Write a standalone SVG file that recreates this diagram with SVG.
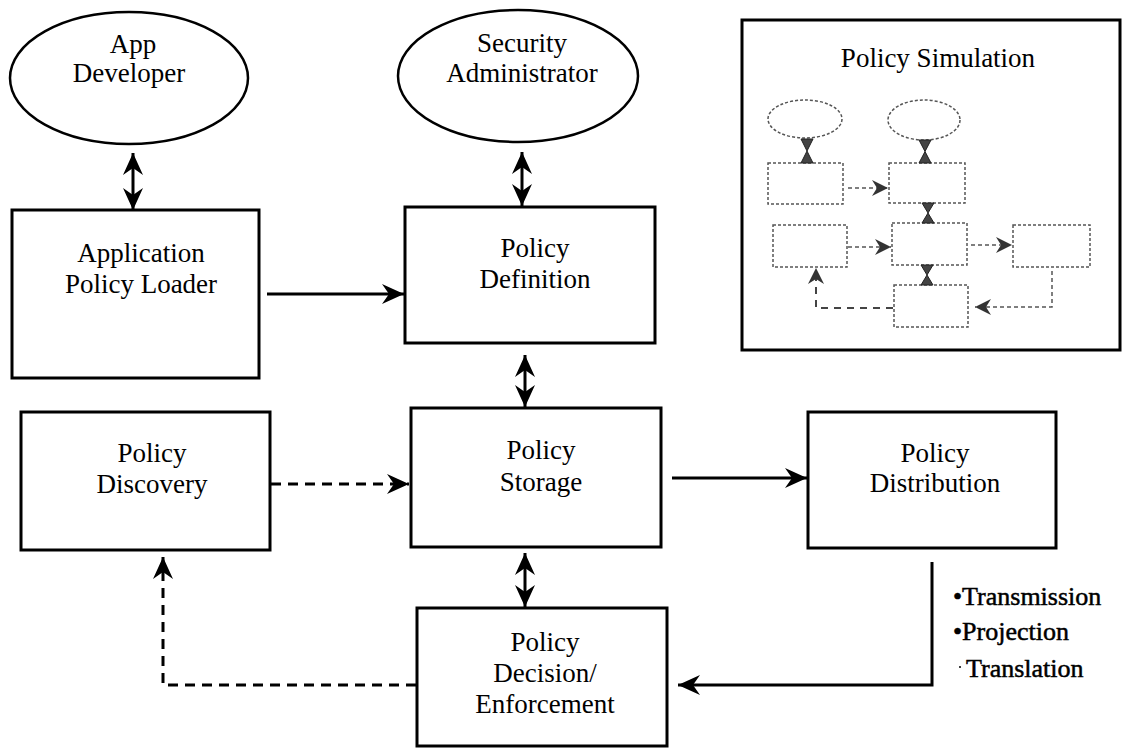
<svg xmlns="http://www.w3.org/2000/svg" width="1124" height="749" viewBox="0 0 1124 749">
<style>
.box{fill:#fff;stroke:#000;stroke-width:3}
.ell{fill:#fff;stroke:#000;stroke-width:2.5}
.t{font-family:"Liberation Serif","Times New Roman",serif;font-size:27px;fill:#000;text-anchor:middle}
.b{font-family:"Liberation Serif","Times New Roman",serif;font-size:26px;fill:#000;stroke:#000;stroke-width:0.5}
.c{fill:none;stroke:#000;stroke-width:3}
.d{fill:none;stroke:#000;stroke-width:3;stroke-dasharray:10 7}
.s{fill:#fff;stroke:#555;stroke-width:1.5;stroke-dasharray:3 2}
.sc{fill:none;stroke:#555;stroke-width:1.5;stroke-dasharray:4 3}
.sd{fill:none;stroke:#444;stroke-width:2;stroke-dasharray:7 6}
.hg{fill:#444;stroke:#222;stroke-width:1}
</style>
<defs>
<marker id="ah" markerUnits="userSpaceOnUse" viewBox="-22 -11 24 22" refX="0" refY="0" markerWidth="24" markerHeight="22" orient="auto-start-reverse" overflow="visible">
<path d="M0,0 L-22,-10 L-15,0 L-22,10 Z" fill="#000"/>
</marker>
<marker id="sh" markerUnits="userSpaceOnUse" viewBox="-16 -9 17 18" refX="0" refY="0" markerWidth="17" markerHeight="18" orient="auto-start-reverse" overflow="visible">
<path d="M0,0 L-16,-8 L-11,0 L-16,8 Z" fill="#333"/>
</marker>
</defs>

<g id="app-developer">
<ellipse class="ell" cx="129" cy="78" rx="119" ry="66"/>
<text class="t" x="133" y="53">App</text>
<text class="t" x="129" y="82">Developer</text>
</g>
<g id="security-administrator">
<ellipse class="ell" cx="518" cy="76" rx="120" ry="66"/>
<text class="t" x="522" y="52">Security</text>
<text class="t" x="522" y="82">Administrator</text>
</g>
<g id="application-policy-loader">
<rect class="box" x="12" y="210" width="247" height="168"/>
<text class="t" x="141" y="262">Application</text>
<text class="t" x="141" y="293">Policy Loader</text>
</g>
<g id="policy-definition">
<rect class="box" x="405" y="207" width="250" height="136"/>
<text class="t" x="535" y="257">Policy</text>
<text class="t" x="535" y="288">Definition</text>
</g>
<g id="policy-discovery">
<rect class="box" x="21" y="412" width="249" height="138"/>
<text class="t" x="152" y="462">Policy</text>
<text class="t" x="152" y="493">Discovery</text>
</g>
<g id="policy-storage">
<rect class="box" x="411" y="408" width="250" height="139"/>
<text class="t" x="541" y="459">Policy</text>
<text class="t" x="541" y="491">Storage</text>
</g>
<g id="policy-distribution">
<rect class="box" x="808" y="412" width="248" height="136"/>
<text class="t" x="935" y="462">Policy</text>
<text class="t" x="935" y="492">Distribution</text>
</g>
<g id="policy-decision-enforcement">
<rect class="box" x="417" y="608" width="250" height="138"/>
<text class="t" x="545" y="651">Policy</text>
<text class="t" x="545" y="682">Decision/</text>
<text class="t" x="545" y="713">Enforcement</text>
</g>
<g id="distribution-methods">
<text class="b" x="953" y="605">•Transmission</text>
<text class="b" x="953" y="640">•Projection</text>
<circle cx="960" cy="667" r="1" fill="#000"/>
<text class="b" x="966" y="677">Translation</text>
</g>

<g id="policy-simulation">
<rect x="742" y="20" width="378" height="330" fill="#fff" stroke="#000" stroke-width="3"/>
<text class="t" x="938" y="67">Policy Simulation</text>
<ellipse class="s" cx="805" cy="119" rx="37" ry="19"/>
<ellipse class="s" cx="924" cy="120" rx="36" ry="20"/>
<rect class="s" x="768" y="163" width="75" height="41"/>
<rect class="s" x="889" y="163" width="76" height="40"/>
<rect class="s" x="773" y="225" width="74" height="42"/>
<rect class="s" x="892" y="223" width="75" height="42"/>
<rect class="s" x="1013" y="225" width="77" height="42"/>
<rect class="s" x="894" y="285" width="74" height="42"/>
<g id="simulation-connectors">
<path class="hg" d="M801,139 L813,139 L807,151 L813,163 L801,163 L807,151 Z"/>
<path class="hg" d="M919,140 L931,140 L925,151.5 L931,163 L919,163 L925,151.5 Z"/>
<path class="hg" d="M922,203 L934,203 L928,213 L934,223 L922,223 L928,213 Z"/>
<path class="hg" d="M921,265 L933,265 L927,275 L933,285 L921,285 L927,275 Z"/>
<line class="sc" x1="848" y1="188" x2="888" y2="188" marker-end="url(#sh)"/>
<line class="sc" x1="848" y1="247" x2="891" y2="247" marker-end="url(#sh)"/>
<line class="sc" x1="971" y1="245" x2="1012" y2="245" marker-end="url(#sh)"/>
<polyline class="sc" points="1052,271 1052,307 975,307" marker-end="url(#sh)"/>
<polyline class="sd" points="893,308 816,308 816,268" marker-end="url(#sh)"/>
</g>
</g>

<g id="connectors">
<line class="c" x1="133" y1="153" x2="133" y2="210" marker-start="url(#ah)" marker-end="url(#ah)"/>
<line class="c" x1="522" y1="152" x2="522" y2="206" marker-start="url(#ah)" marker-end="url(#ah)"/>
<line class="c" x1="525" y1="355" x2="525" y2="407" marker-start="url(#ah)" marker-end="url(#ah)"/>
<line class="c" x1="525" y1="553" x2="525" y2="607" marker-start="url(#ah)" marker-end="url(#ah)"/>
<line class="c" x1="267" y1="294" x2="404" y2="294" marker-end="url(#ah)"/>
<line class="c" x1="672" y1="478" x2="807" y2="478" marker-end="url(#ah)"/>
<line class="d" x1="271" y1="484" x2="409" y2="484" marker-end="url(#ah)"/>
<polyline class="c" points="932,562 932,685 678,685" marker-end="url(#ah)"/>
<polyline class="d" points="416,685 163,685 163,557" marker-end="url(#ah)"/>
</g>
</svg>
